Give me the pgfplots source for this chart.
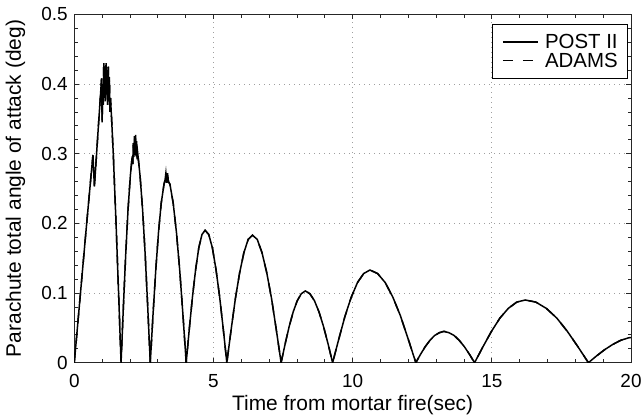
\documentclass[border=0pt]{standalone}
\usepackage{fontspec}
\setmainfont{Liberation Sans}
\usepackage{pgfplots}
\pgfplotsset{compat=1.18}
\usepackage{pgfplotstable}
\pgfplotstableread{
x y
0 0
0.2 0.09
0.4 0.18
0.6 0.268
0.67 0.298
0.70 0.272
0.72 0.253
0.76 0.275
0.85 0.33
0.95 0.39
0.98 0.408
1.00 0.345
1.02 0.40
1.04 0.37
1.06 0.43
1.08 0.38
1.10 0.425
1.12 0.375
1.14 0.43
1.16 0.385
1.18 0.42
1.20 0.37
1.22 0.425
1.24 0.38
1.26 0.41
1.28 0.36
1.30 0.38
1.34 0.35
1.40 0.30
1.50 0.20
1.60 0.09
1.68 0
1.763 0.080
1.847 0.155
1.93 0.219
2.013 0.268
2.08 0.296
2.10 0.285
2.12 0.315
2.14 0.295
2.16 0.325
2.18 0.298
2.20 0.327
2.22 0.296
2.24 0.318
2.26 0.292
2.28 0.300
2.363 0.268
2.455 0.219
2.547 0.155
2.638 0.080
2.73 0
2.828 0.069
2.927 0.133
3.025 0.187
3.123 0.229
3.222 0.256
3.26 0.262
3.29 0.272
3.32 0.258
3.35 0.272
3.38 0.26
3.437 0.256
3.553 0.229
3.67 0.187
3.787 0.133
3.903 0.069
4.02 0
4.133 0.049
4.247 0.095
4.36 0.134
4.473 0.165
4.587 0.184
4.70 0.19
4.83 0.184
4.96 0.165
5.09 0.134
5.22 0.095
5.35 0.049
5.48 0
5.633 0.047
5.787 0.092
5.94 0.129
6.093 0.158
6.247 0.177
6.40 0.183
6.572 0.177
6.743 0.158
6.915 0.129
7.087 0.092
7.258 0.047
7.43 0
7.575 0.027
7.72 0.052
7.865 0.073
8.01 0.089
8.155 0.099
8.30 0.103
8.463 0.099
8.627 0.089
8.79 0.073
8.953 0.052
9.117 0.027
9.28 0
9.503 0.034
9.727 0.067
9.95 0.094
10.173 0.115
10.397 0.128
10.62 0.133
10.895 0.128
11.17 0.115
11.445 0.094
11.72 0.067
11.995 0.034
12.27 0
12.438 0.012
12.607 0.023
12.775 0.032
12.943 0.039
13.112 0.043
13.28 0.045
13.463 0.043
13.647 0.039
13.83 0.032
14.013 0.023
14.197 0.012
14.38 0
14.683 0.023
14.987 0.045
15.29 0.064
15.593 0.078
15.897 0.087
16.2 0.09
16.578 0.087
16.957 0.078
17.335 0.064
17.713 0.045
18.092 0.023
18.47 0
18.758 0.0096
19.047 0.0185
19.335 0.026
19.623 0.032
19.912 0.0357
20.2 0.037
}\aoa
\begin{document}
\begin{tikzpicture}
\useasboundingbox (-74.3bp,-54.3bp) rectangle (568.7bp,362.7bp);
\begin{axis}[
  at={(0,0)}, anchor=south west,
  scale only axis, width=556.7bp, height=348.4bp,
  xmin=0, xmax=20, ymin=0, ymax=0.5,
  xtick={0,5,10,15,20}, minor x tick num=4,
  ytick={0,0.1,0.2,0.3,0.4,0.5}, minor y tick num=4,
  yticklabels={0,0.1,0.2,0.3,0.4,0.5},
  tick align=inside, major tick length=5bp, minor tick length=3.5bp,
  xmajorgrids, ymajorgrids,
  grid style={dash pattern=on 1bp off 4bp, gray!75, line width=0.7bp},
  axis line style={black!85, line width=0.8bp},
  tick style={black!85, line width=0.7bp},
  /pgf/number format/assume math mode=true,
  ticklabel style={font=\fontsize{19}{19}\selectfont},
  yticklabel style={anchor=east, inner sep=0pt, xshift=-6.5bp},
  xticklabel style={anchor=base, inner sep=0pt, yshift=-25bp},
  xlabel={Time from mortar fire(sec)},
  ylabel={Parachute total angle of attack (deg)},
  label style={font=\fontsize{21}{21}\selectfont, inner sep=0pt},
  xlabel style={at={(axis description cs:0.5,-0.1358)}, anchor=base},
  ylabel style={at={(axis description cs:-0.088,0.5)}, anchor=south},
  legend image code/.code={\draw[#1] (0bp,0bp) -- (35bp,0bp);},
  legend style={at={(axis description cs:0.9946,0.9721)}, anchor=north east,
    font=\fontsize{20.5}{20.5}\selectfont, draw=black, line width=0.7bp,
    inner xsep=10bp, inner ysep=9.6bp, row sep=3.1bp,
    nodes={inner sep=0pt},
    /tikz/every odd column/.append style={column sep=6.5bp}},
  legend cell align=left,
]
\addplot[black, line width=1.5bp] table[x=x,y=y]{\aoa};
\addlegendentry{POST II}
\addplot[black, line width=1.5bp, dash pattern=on 10bp off 10bp] table[x=x,y=y]{\aoa};
\addlegendentry{ADAMS}
\end{axis}
\end{tikzpicture}
\end{document}
